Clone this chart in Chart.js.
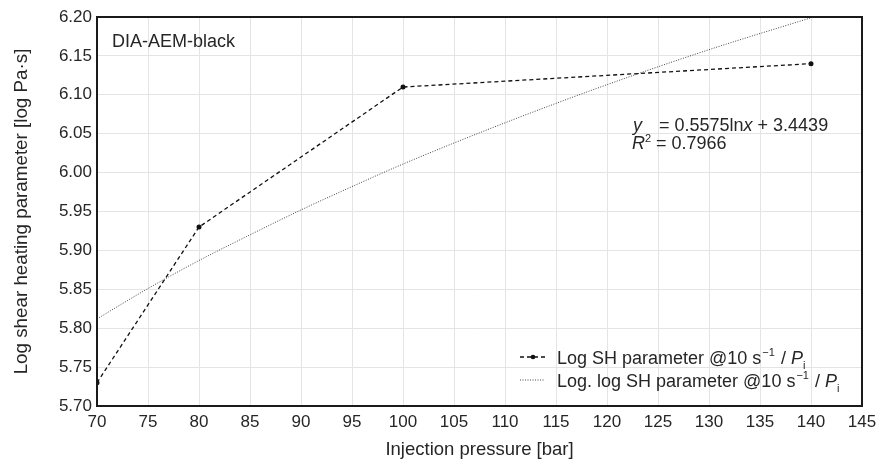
<!DOCTYPE html>
<html>
<head>
<meta charset="utf-8">
<script src="https://cdn.jsdelivr.net/npm/chart.js@4.4.1/dist/chart.umd.min.js"></script>
<style>
  html, body { margin: 0; padding: 0; background: #fff; }
  #wrap { width: 883px; height: 464px; position: relative; }
</style>
</head>
<body>
<div id="wrap"><canvas id="c" width="883" height="464"></canvas></div>
<script>
// measured points
var pressure = [70, 80, 100, 140];
var logSH = [5.73, 5.93, 6.11, 6.14];

// log trendline
var trendX = [70, 75, 80, 85, 90, 95, 100, 110, 120, 130, 140];
var trendY = [5.812, 5.851, 5.887, 5.920, 5.952, 5.982, 6.011, 6.064, 6.113, 6.158, 6.199];

var xTicks = [70, 75, 80, 85, 90, 95, 100, 105, 110, 115, 120, 125, 130, 135, 140, 145];
var yMin = 5.70, yMax = 6.20, yStep = 0.05;

var sampleLabel = 'DIA-AEM-black';
var fitText = ['= 0.5575ln', '+ 3.4439'];
var r2Text = '= 0.7966';

var FONT = '"Liberation Sans", Arial, Helvetica, sans-serif';
var INK = '#262626';

function toPts(xs, ys) {
  var out = [];
  for (var i = 0; i < xs.length; i++) out.push({x: xs[i], y: ys[i]});
  return out;
}

// draws frame, labels, equation and legend
var extras = {
  id: 'extras',
  afterDraw: function(chart) {
    var ctx = chart.ctx, a = chart.chartArea;
    ctx.save();
    ctx.strokeStyle = '#1a1a1a';
    ctx.lineWidth = 2;
    ctx.strokeRect(a.left, a.top, a.right - a.left, a.bottom - a.top);

    ctx.fillStyle = INK;
    ctx.textBaseline = 'alphabetic';
    ctx.textAlign = 'left';
    ctx.font = '18px ' + FONT;
    ctx.fillText(sampleLabel, 112, 47);

    // equation
    var x0 = 633, y0 = 131;
    ctx.font = 'italic 18px ' + FONT;
    ctx.fillText('y', x0, y0);
    ctx.font = '18px ' + FONT;
    var xx = x0 + 26;
    ctx.fillText(fitText[0], xx, y0);
    xx += ctx.measureText(fitText[0]).width;
    ctx.font = 'italic 18px ' + FONT;
    ctx.fillText('x', xx, y0);
    xx += ctx.measureText('x').width + 5;
    ctx.font = '18px ' + FONT;
    ctx.fillText(fitText[1], xx, y0);

    var y1 = 149;
    ctx.font = 'italic 18px ' + FONT;
    ctx.fillText('R', x0 - 1, y1);
    var rw = ctx.measureText('R').width;
    ctx.font = '11px ' + FONT;
    ctx.fillText('2', x0 - 1 + rw, y1 - 7);
    ctx.font = '18px ' + FONT;
    ctx.fillText(r2Text, x0 + rw + 10, y1);

    // legend
    var rows = [
      {name: 'Log SH parameter @10 s', dash: [4, 3], w: 1.3, dot: true, color: '#111'},
      {name: 'Log. log SH parameter @10 s', dash: [1, 1.5], w: 1, dot: false, color: '#444'}
    ];
    for (var i = 0; i < rows.length; i++) {
      var r = rows[i];
      var cy = 357 + i * 23;
      ctx.strokeStyle = r.color;
      ctx.lineWidth = r.w;
      ctx.setLineDash(r.dash);
      ctx.beginPath();
      ctx.moveTo(520, cy);
      ctx.lineTo(545, cy);
      ctx.stroke();
      ctx.setLineDash([]);
      if (r.dot) {
        ctx.fillStyle = '#111';
        ctx.beginPath();
        ctx.arc(533, cy, 2.3, 0, Math.PI * 2);
        ctx.fill();
      }
      ctx.fillStyle = INK;
      var tx = 557, by = cy + 7;
      ctx.font = '18px ' + FONT;
      ctx.fillText(r.name, tx, by);
      tx += ctx.measureText(r.name).width;
      ctx.font = '11px ' + FONT;
      ctx.fillText('\u2212' + '1', tx + 1, by - 8);
      tx += ctx.measureText('\u22121').width + 2;
      ctx.font = '18px ' + FONT;
      ctx.fillText(' / ', tx, by);
      tx += ctx.measureText(' / ').width;
      ctx.font = 'italic 18px ' + FONT;
      ctx.fillText('P', tx, by);
      tx += ctx.measureText('P').width;
      ctx.font = '11px ' + FONT;
      ctx.fillText('i', tx, by + 5);
    }
    ctx.restore();
  }
};

new Chart(document.getElementById('c'), {
  type: 'scatter',
  data: {
    datasets: [
      {
        label: 'Log SH parameter @10 s-1 / Pi',
        data: toPts(pressure, logSH),
        showLine: true,
        borderColor: '#111',
        borderWidth: 1.3,
        borderDash: [4, 3],
        pointRadius: 2.5,
        pointBackgroundColor: '#111',
        pointBorderWidth: 0,
        tension: 0
      },
      {
        label: 'Log. log SH parameter @10 s-1 / Pi',
        data: toPts(trendX, trendY),
        showLine: true,
        borderColor: '#444',
        borderWidth: 1,
        borderDash: [1, 1.5],
        pointRadius: 0,
        cubicInterpolationMode: 'monotone'
      }
    ]
  },
  options: {
    responsive: false,
    animation: false,
    layout: { padding: { top: 17, right: 21, left: 0, bottom: 0 } },
    plugins: { legend: { display: false }, tooltip: { enabled: false } },
    scales: {
      x: {
        type: 'linear',
        min: 70, max: 145,
        afterBuildTicks: function(s) { s.ticks = xTicks.map(function(v) { return {value: v}; }); },
        afterFit: function(s) { s.height = 58; },
        grid: { color: '#e4e4e4', lineWidth: 1, drawTicks: false },
        border: { display: false },
        ticks: { color: INK, padding: 6, font: { family: FONT, size: 17 }, maxRotation: 0, autoSkip: false },
        title: { display: true, text: 'Injection pressure [bar]', color: INK, font: { family: FONT, size: 18.5 }, padding: { top: 0, bottom: 3 } }
      },
      y: {
        min: yMin, max: yMax,
        afterFit: function(s) { s.width = 97; },
        grid: { color: '#e4e4e4', lineWidth: 1, drawTicks: false },
        border: { display: false },
        ticks: {
          stepSize: yStep, color: INK, padding: 5,
          font: { family: FONT, size: 17 },
          callback: function(v) { return Number(v).toFixed(2); }
        },
        title: { display: true, text: 'Log shear heating parameter [log Pa\u00b7s]', color: INK, font: { family: FONT, size: 18.8 }, padding: { top: 11, bottom: 0 } }
      }
    }
  },
  plugins: [extras]
});
</script>
</body>
</html>
